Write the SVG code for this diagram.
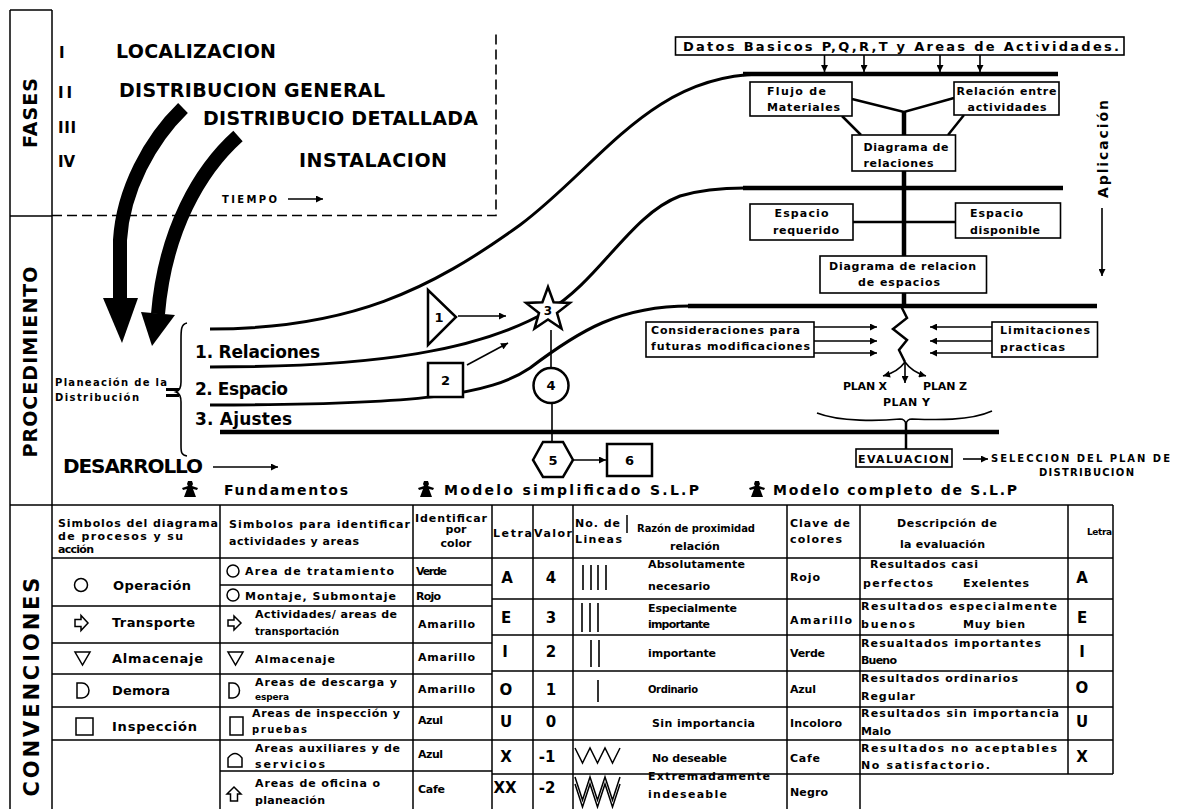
<svg xmlns="http://www.w3.org/2000/svg" width="1181" height="809" viewBox="0 0 1181 809">
  <style>
    text { font-family: "DejaVu Sans", "Liberation Sans", sans-serif; font-weight: bold; fill: #000; }
    .h21 { font-size: 21px; }
    .h20 { font-size: 20px; }
    .h19 { font-size: 19px; }
    .h17 { font-size: 17px; }
    .h15 { font-size: 15px; }
    .h14 { font-size: 14px; }
    .h13 { font-size: 13px; }
    .h12 { font-size: 12px; }
    .h11 { font-size: 11px; }
    .h10 { font-size: 10px; }
    .h9 { font-size: 9px; }
    .m { text-anchor: middle; }
    .rule { stroke: #000; stroke-width: 1.5; fill: none; }
    .wire { stroke: #000; stroke-width: 3; fill: none; }
    .bar { stroke: #000; stroke-width: 4.5; fill: none; }
    .thin { stroke: #000; stroke-width: 1.6; fill: none; }
    .mid { stroke: #000; stroke-width: 2.5; fill: none; }
    .box { fill: #fff; stroke: #000; stroke-width: 1.6; }
    .shape { fill: #fff; stroke: #000; stroke-width: 2.5; }
    .sym { fill: #fff; stroke: #000; stroke-width: 1.5; }
    .fat { fill: none; stroke: #000; stroke-width: 14; }
  </style>
  <defs>
    <marker id="arr" viewBox="0 0 10 10" refX="10" refY="5" markerWidth="8" markerHeight="7" markerUnits="userSpaceOnUse" orient="auto">
      <path d="M0 0 L10 5 L0 10 Z"/>
    </marker>
    <path id="runner" d="M-2 0 h4 l1 3 l-1 2 l6 2 l-1 2 l-4 -1 l3 8 h-12 l3 -8 l-4 1 l-1 -2 l6 -2 l-1 -2 z"/>
  </defs>

  <rect width="1181" height="809" fill="#fff"/>

  <!-- outer frame and band separators -->
  <g id="frame">
    <path class="rule" d="M10 10 V809 M52 10 V809 M10 10 H52 M10 216 H52 M10 505 H1113"/>
    <path class="thin" stroke-dasharray="10 5" d="M52 215.5 H496 V32"/>
    <text class="h19 m" transform="translate(37 113) rotate(-90)" textLength="70">FASES</text>
    <text class="h19 m" transform="translate(37 362) rotate(-90)" textLength="191">PROCEDIMIENTO</text>
    <text class="h21 m" transform="translate(39 687) rotate(-90)" textLength="219">CONVENCIONES</text>
  </g>

  <!-- phases -->
  <g id="fases">
    <text class="h15" x="59" y="58">I</text>
    <text class="h15" x="58" y="98" textLength="14">II</text>
    <text class="h15" x="58" y="133" textLength="18">III</text>
    <text class="h15" x="58" y="167" textLength="17">IV</text>
    <text class="h19" x="116" y="58" textLength="160">LOCALIZACION</text>
    <text class="h19" x="119" y="97" textLength="266">DISTRIBUCION GENERAL</text>
    <text class="h19" x="203" y="125" textLength="275">DISTRIBUCIO DETALLADA</text>
    <text class="h19" x="299" y="167" textLength="148">INSTALACION</text>
    <text class="h10" x="222" y="203" textLength="55">TIEMPO</text>
  </g>

  <!-- connectors -->
  <g id="connectors">
    <path class="thin" d="M288 199 H323" marker-end="url(#arr)"/>
    <!-- heavy phase arrows -->
    <path class="fat" d="M183 108 C150 140 123 190 120 240 L120 300"/>
    <polygon points="103,298 138,298 122,343"/>
    <path class="fat" d="M238 136 C200 170 165 230 158 314"/>
    <polygon points="141,312 175,315 152,346"/>

    <!-- planning lines -->
    <path class="wire" d="M210 329 C350 329 430 290 520 225 C600 165 650 76 760 74"/>
    <path class="bar" d="M743 74 H1058"/>
    <path class="wire" d="M210 367 C380 367 480 350 548 311 C600 280 630 215 680 196 C700 190 720 188 745 188"/>
    <path class="bar" d="M743 188 H1063"/>
    <path class="wire" d="M210 405 C420 405 490 395 530 368 C580 330 620 306 690 306"/>
    <path class="bar" d="M688 306 H1097"/>
    <path class="bar" d="M220 432 H999"/>

    <!-- inputs from basic data -->
    <path class="thin" d="M824.5 55 V72" marker-end="url(#arr)"/>
    <path class="thin" d="M864 55 V72" marker-end="url(#arr)"/>
    <path class="thin" d="M940 55 V72" marker-end="url(#arr)"/>
    <path class="thin" d="M980 55 V72" marker-end="url(#arr)"/>

    <!-- central spine -->
    <path class="mid" d="M852 99 L904 112 L954 98"/>
    <path class="mid" d="M842 116 L861 135 M964 115 L948 135"/>
    <path class="bar" d="M904 111 V135 M904 171 V256 M904 293 V306"/>
    <path class="mid" d="M853 222 H955.5"/>
    <path class="mid" d="M901 306 L907 318 L893 329 L907 340 L899 350 L905 362"/>
    <path class="thin" d="M905 362 Q898 372 883 376" marker-end="url(#arr)"/>
    <path class="thin" d="M905 362 V383" marker-end="url(#arr)"/>
    <path class="thin" d="M905 362 Q912 372 926 376" marker-end="url(#arr)"/>
    <path class="thin" d="M814 327 H877" marker-end="url(#arr)"/>
    <path class="thin" d="M814 341 H877" marker-end="url(#arr)"/>
    <path class="thin" d="M814 353 H877" marker-end="url(#arr)"/>
    <path class="thin" d="M992 327 H930" marker-end="url(#arr)"/>
    <path class="thin" d="M992 341 H930" marker-end="url(#arr)"/>
    <path class="thin" d="M992 353 H930" marker-end="url(#arr)"/>
    <path class="thin" d="M817 413 C840 422 880 421 900 419 Q905 419 906 424 Q907 419 912 419 C935 420 970 421 992 411"/>
    <path class="mid" d="M906 423 V449"/>
    <path class="thin" d="M963 459 H988" marker-end="url(#arr)"/>
    <path class="thin" d="M1102 208 V276" marker-end="url(#arr)"/>

    <!-- simplified model links -->
    <path class="thin" d="M458 316 H506" marker-end="url(#arr)"/>
    <path class="thin" d="M467 365 L508 343" marker-end="url(#arr)"/>
    <path class="thin" d="M551 330 V368"/>
    <path class="thin" d="M552 403 V442"/>
    <path class="thin" d="M573 460 H606" marker-end="url(#arr)"/>
    <path class="thin" d="M213 467 H278" marker-end="url(#arr)"/>
  </g>

  <!-- procedure labels -->
  <g id="planeacion">
    <text class="h10" x="55" y="386" textLength="112">Planeación de la</text>
    <text class="h10" x="55" y="401" textLength="84">Distribución</text>
    <path d="M166 389.5 H179 M166 395.5 H179" stroke="#000" stroke-width="3"/>
    <path class="thin" d="M187 323 C181 324 181 330 181 340 L181 382 C181 389 179 391 176 392 C179 393 181 395 181 402 L181 445 C181 452 181 455 187 456"/>
    <text class="h17" x="195" y="358" textLength="125">1. Relaciones</text>
    <text class="h17" x="195" y="395" textLength="93">2. Espacio</text>
    <text class="h17" x="195" y="425" textLength="97">3.  Ajustes</text>
    <text class="h20" x="63" y="473" textLength="140">DESARROLLO</text>
  </g>

  <!-- simplified model symbols -->
  <g id="n1">
    <polygon class="shape" points="428,290 428,345 456,317"/>
    <text class="h13 m" x="439" y="322">1</text>
  </g>
  <g id="n2">
    <rect class="shape" x="428" y="363" width="35" height="34"/>
    <text class="h13 m" x="445.5" y="385">2</text>
  </g>
  <g id="n3">
    <polygon class="shape" points="548,287 553.6,302.3 569.9,302.9 557,312.9 561.5,328.6 548,319.5 534.5,328.6 539,312.9 526.1,302.9 542.4,302.3"/>
    <text class="h12 m" x="548" y="315">3</text>
  </g>
  <g id="n4">
    <circle class="shape" cx="551" cy="385.5" r="17.5"/>
    <text class="h13 m" x="551" y="390">4</text>
  </g>
  <g id="n5">
    <polygon class="shape" points="533,460 543,442 563,442 573,460 563,477 543,477"/>
    <text class="h13 m" x="553" y="465">5</text>
  </g>
  <g id="n6">
    <rect class="shape" x="607" y="444" width="45" height="32"/>
    <text class="h13 m" x="629.5" y="465">6</text>
  </g>

  <!-- full model boxes -->
  <g id="datos">
    <rect class="box" x="675.5" y="37" width="448.5" height="18"/>
    <text class="h13" x="683" y="51" textLength="436">Datos Basicos P,Q,R,T y Areas de Actividades.</text>
  </g>
  <g id="flujo">
    <rect class="box" x="750" y="82" width="102" height="34"/>
    <text class="h11" x="767" y="95" textLength="59">Flujo de</text>
    <text class="h11" x="767" y="111" textLength="73">Materiales</text>
  </g>
  <g id="relacion">
    <rect class="box" x="954" y="82" width="105" height="33"/>
    <text class="h11" x="956.5" y="95" textLength="100">Relación entre</text>
    <text class="h11" x="967.5" y="111" textLength="79">actividades</text>
  </g>
  <g id="diagrama-relaciones">
    <rect class="box" x="852" y="135" width="103.5" height="36"/>
    <text class="h11" x="863.5" y="151" textLength="85">Diagrama de</text>
    <text class="h11" x="863.5" y="167" textLength="70">relaciones</text>
  </g>
  <g id="espacio-requerido">
    <rect class="box" x="750" y="204" width="103" height="36"/>
    <text class="h11" x="774.5" y="217" textLength="54">Espacio</text>
    <text class="h11" x="773" y="234" textLength="66">requerido</text>
  </g>
  <g id="espacio-disponible">
    <rect class="box" x="955.5" y="203" width="105" height="35"/>
    <text class="h11" x="970" y="217" textLength="53">Espacio</text>
    <text class="h11" x="970" y="234" textLength="70">disponible</text>
  </g>
  <g id="diagrama-espacios">
    <rect class="box" x="820" y="256" width="166.5" height="37"/>
    <text class="h11" x="829" y="270" textLength="147">Diagrama de relacion</text>
    <text class="h11" x="858" y="286" textLength="82">de espacios</text>
  </g>
  <g id="consideraciones">
    <rect class="box" x="646" y="322" width="168" height="35"/>
    <text class="h11" x="651" y="334" textLength="149">Consideraciones para</text>
    <text class="h11" x="651" y="350" textLength="159">futuras modificaciones</text>
  </g>
  <g id="limitaciones">
    <rect class="box" x="992" y="322" width="105.5" height="35"/>
    <text class="h11" x="1000" y="334" textLength="90">Limitaciones</text>
    <text class="h11" x="1000" y="351" textLength="65">practicas</text>
  </g>
  <g id="planes">
    <text class="h11" x="843" y="390" textLength="44">PLAN X</text>
    <text class="h11" x="923" y="390" textLength="44">PLAN Z</text>
    <text class="h11" x="883" y="406" textLength="47">PLAN Y</text>
  </g>
  <g id="evaluacion">
    <rect class="box" x="856" y="449" width="96" height="18"/>
    <text class="h11" x="858" y="463" textLength="91">EVALUACION</text>
  </g>
  <g id="seleccion">
    <text class="h10" x="991" y="462" textLength="179">SELECCION DEL PLAN DE</text>
    <text class="h10" x="1039" y="476" textLength="95">DISTRIBUCION</text>
  </g>
  <g id="aplicacion">
    <text class="h14 m" transform="translate(1108 149) rotate(-90)" textLength="98">Aplicación</text>
  </g>

  <!-- model legend -->
  <g id="modelos">
    <use href="#runner" x="190" y="481"/>
    <text class="h14" x="224" y="495" textLength="124">Fundamentos</text>
    <use href="#runner" x="426" y="481"/>
    <text class="h14" x="444" y="495" textLength="255">Modelo simplificado S.L.P</text>
    <use href="#runner" x="757" y="481"/>
    <text class="h14" x="773" y="495" textLength="244">Modelo completo de S.L.P</text>
  </g>

  <!-- conventions table -->
  <g id="convenciones">
    <path class="rule" d="M52 558 H1113 M220 505 V809 M413 505 V809 M492 505 V809 M533 505 V809 M573 505 V809 M787 505 V809 M860 505 V809 M1068 505 V774 M1113 505 V774 M627 515 V533
      M220 585 H492 M52 606 H492 M52 643 H492 M52 674 H492 M52 707 H492 M52 740 H492 M220 771 H492
      M492 599 H1113 M492 635 H1113 M492 671 H1113 M492 707 H1113 M492 740 H1113 M492 774 H1113"/>

    <!-- header -->
    <text class="h11" x="58" y="527" textLength="160">Simbolos del diagrama</text>
    <text class="h11" x="58" y="540" textLength="125">de procesos y su</text>
    <text class="h11" x="58" y="553" textLength="36">acción</text>
    <text class="h11" x="229" y="528" textLength="181">Simbolos para identificar</text>
    <text class="h11" x="229" y="545" textLength="130">actividades y areas</text>
    <text class="h11" x="415" y="522" textLength="72">Identificar</text>
    <text class="h11 m" x="456" y="533">por</text>
    <text class="h11 m" x="456" y="547">color</text>
    <text class="h11" x="493" y="537" textLength="39">Letra</text>
    <text class="h11" x="534" y="537" textLength="38">Valor</text>
    <text class="h11" x="575" y="527" textLength="45">No. de</text>
    <text class="h11" x="575" y="543" textLength="47">Lineas</text>
    <text class="h10" x="637" y="532" textLength="118">Razón de proximidad</text>
    <text class="h11 m" x="695" y="550">relación</text>
    <text class="h11" x="790" y="527" textLength="60">Clave de</text>
    <text class="h11" x="790" y="543" textLength="52">colores</text>
    <text class="h11" x="897" y="527" textLength="100">Descripción de</text>
    <text class="h11" x="900" y="548" textLength="85">la evaluación</text>
    <text class="h9" x="1087" y="535" textLength="25">Letra</text>

    <!-- process chart symbols -->
    <circle class="sym" cx="81" cy="585" r="6.5"/>
    <polygon class="sym" stroke-width="2" points="75,619.5 81,619.5 81,615.5 88,623 81,630.5 81,626.5 75,626.5"/>
    <polygon class="sym" points="75,652 90,652 82.5,665"/>
    <path class="sym" d="M77 683 H82 A7 7.5 0 0 1 82 698 H77 Z"/>
    <rect class="sym" x="76" y="718" width="17" height="17"/>
    <text class="h13" x="113" y="590" textLength="78">Operación</text>
    <text class="h13" x="112" y="627" textLength="83">Transporte</text>
    <text class="h13" x="112" y="663" textLength="91">Almacenaje</text>
    <text class="h13" x="112" y="695" textLength="58">Demora</text>
    <text class="h13" x="112" y="731" textLength="85">Inspección</text>

    <!-- activity and area symbols -->
    <circle class="sym" cx="233" cy="571" r="6"/>
    <circle class="sym" cx="233" cy="595" r="6"/>
    <polygon class="sym" stroke-width="2" points="228,620 234,620 234,616 241,623 234,630 234,626 228,626"/>
    <polygon class="sym" points="228,652 243,652 235.5,665"/>
    <path class="sym" d="M229 683 H233 A6.5 7.5 0 0 1 233 698 H229 Z"/>
    <rect class="sym" x="230" y="717" width="13" height="18"/>
    <path class="sym" d="M228 767 V758 Q235 749 242 758 V767 Z"/>
    <polygon class="sym" points="234,787 241,794 237.5,794 237.5,801 230.5,801 230.5,794 227,794"/>
    <text class="h11" x="245" y="575" textLength="149">Area de tratamiento</text>
    <text class="h11" x="245" y="600" textLength="151">Montaje, Submontaje</text>
    <text class="h11" x="255" y="618" textLength="142">Actividades/ areas de</text>
    <text class="h10" x="255" y="635" textLength="84">transportación</text>
    <text class="h11" x="255" y="663" textLength="80">Almacenaje</text>
    <text class="h11" x="255" y="686" textLength="142">Areas de descarga y</text>
    <text class="h9" x="255" y="700" textLength="34">espera</text>
    <text class="h11" x="252" y="717" textLength="148">Areas de inspección y</text>
    <text class="h10" x="252" y="733" textLength="55">pruebas</text>
    <text class="h11" x="255" y="752" textLength="145">Areas auxiliares y de</text>
    <text class="h11" x="255" y="768" textLength="70">servicios</text>
    <text class="h11" x="255" y="787" textLength="125">Areas de oficina o</text>
    <text class="h11" x="255" y="804" textLength="70">planeación</text>

    <!-- colour identification -->
    <text class="h11" x="416" y="575" textLength="31">Verde</text>
    <text class="h11" x="416" y="600" textLength="25">Rojo</text>
    <text class="h11" x="418" y="628" textLength="57">Amarillo</text>
    <text class="h11" x="418" y="661" textLength="57">Amarillo</text>
    <text class="h11" x="418" y="693" textLength="57">Amarillo</text>
    <text class="h11" x="418" y="724" textLength="25">Azul</text>
    <text class="h11" x="418" y="758" textLength="25">Azul</text>
    <text class="h11" x="418" y="793" textLength="27">Cafe</text>

    <!-- letter and value -->
    <text class="h15 m" x="507" y="583">A</text>
    <text class="h15 m" x="506" y="623">E</text>
    <text class="h15 m" x="505" y="657">I</text>
    <text class="h15 m" x="506" y="695">O</text>
    <text class="h15 m" x="506" y="727">U</text>
    <text class="h15 m" x="506" y="762">X</text>
    <text class="h15 m" x="505" y="793" textLength="23">XX</text>
    <text class="h15 m" x="551" y="583">4</text>
    <text class="h15 m" x="551" y="623">3</text>
    <text class="h15 m" x="551" y="657">2</text>
    <text class="h15 m" x="551" y="695">1</text>
    <text class="h15 m" x="551" y="727">0</text>
    <text class="h15 m" x="547" y="762">-1</text>
    <text class="h15 m" x="547" y="793">-2</text>

    <!-- number of lines -->
    <path class="thin" d="M583 565 V590 M591 565 V590 M598 565 V590 M606 565 V590"/>
    <path class="thin" d="M582 603 V632 M590 603 V632 M598 603 V632"/>
    <path class="thin" d="M591 640 V667 M599 640 V667"/>
    <path class="thin" d="M598 680 V702"/>
    <path class="rule" stroke-width="1.2" d="M575 748 L582.5 763 L590 748 L597.5 763 L605 748 L612.5 763 L620 748"/>
    <path class="rule" stroke-width="1.2" d="M575 777 L582.5 800 L590 777 L597.5 800 L605 777 L612.5 800 L620 777 M575 784 L582.5 807 L590 784 L597.5 807 L605 784 L612.5 807 L620 784"/>

    <!-- closeness reasons -->
    <text class="h11" x="648" y="568" textLength="97">Absolutamente</text>
    <text class="h11" x="648" y="590" textLength="62">necesario</text>
    <text class="h11" x="648" y="612" textLength="89">Especialmente</text>
    <text class="h11" x="648" y="628" textLength="62">importante</text>
    <text class="h11" x="648" y="657" textLength="68">importante</text>
    <text class="h10" x="648" y="693" textLength="50">Ordinario</text>
    <text class="h11" x="652" y="727" textLength="103">Sin importancia</text>
    <text class="h11" x="652" y="762" textLength="75">No deseable</text>
    <text class="h11" x="648" y="780" textLength="122">Extremadamente</text>
    <text class="h11" x="648" y="798" textLength="79">indeseable</text>

    <!-- colour key -->
    <text class="h11" x="790" y="581" textLength="30">Rojo</text>
    <text class="h11" x="790" y="624" textLength="62">Amarillo</text>
    <text class="h11" x="790" y="657" textLength="35">Verde</text>
    <text class="h11" x="790" y="693" textLength="26">Azul</text>
    <text class="h11" x="790" y="727" textLength="52">Incoloro</text>
    <text class="h11" x="790" y="762" textLength="30">Cafe</text>
    <text class="h11" x="790" y="796" textLength="38">Negro</text>

    <!-- evaluation description -->
    <text class="h11" x="870" y="568" textLength="108">Resultados casi</text>
    <text class="h11" x="863" y="587" textLength="70">perfectos</text>
    <text class="h11" x="963" y="587" textLength="66">Exelentes</text>
    <text class="h11" x="861" y="610" textLength="196">Resultados especialmente</text>
    <text class="h11" x="861" y="628" textLength="54">buenos</text>
    <text class="h11" x="963" y="628" textLength="62">Muy bien</text>
    <text class="h11" x="861" y="647" textLength="180">Resualtados importantes</text>
    <text class="h11" x="861" y="664" textLength="36">Bueno</text>
    <text class="h11" x="861" y="682" textLength="157">Resultados ordinarios</text>
    <text class="h11" x="861" y="700" textLength="54">Regular</text>
    <text class="h11" x="861" y="717" textLength="198">Resultados sin importancia</text>
    <text class="h11" x="861" y="735" textLength="30">Malo</text>
    <text class="h11" x="861" y="752" textLength="196">Resultados no aceptables</text>
    <text class="h11" x="861" y="769" textLength="129">No satisfactorio.</text>

    <text class="h15 m" x="1082" y="583">A</text>
    <text class="h15 m" x="1082" y="623">E</text>
    <text class="h15 m" x="1082" y="657">I</text>
    <text class="h15 m" x="1082" y="693">O</text>
    <text class="h15 m" x="1082" y="727">U</text>
    <text class="h15 m" x="1082" y="762">X</text>
  </g>
</svg>
